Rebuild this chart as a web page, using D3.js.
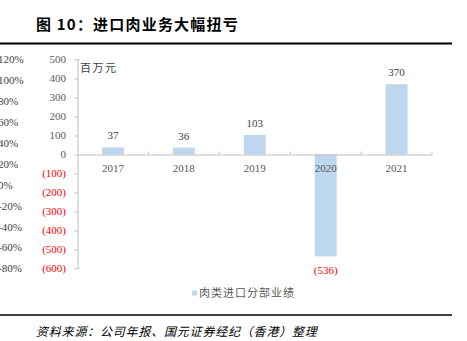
<!DOCTYPE html>
<html><head><meta charset="utf-8">
<script src="https://cdn.jsdelivr.net/npm/d3@7"></script>
<style>
body{margin:0;background:#fff;}
svg{display:block;}
</style></head>
<body>
<svg id="c" width="467" height="341"></svg>
<script>
const categories = ["2017","2018","2019","2020","2021"];
const values = [37, 36, 103, -536, 370];
const seriesName = "肉类进口分部业绩";
const yTicks = [500,400,300,200,100,0,-100,-200,-300,-400,-500,-600];
const pctLabels = ["120%","100%","80%","60%","40%","20%","0%","-20%","-40%","-60%","-80%"];
const title = "图 10：进口肉业务大幅扭亏";
const unitLabel = "百万元";
const source = "资料来源：公司年报、国元证券经纪（香港）整理";

const svg = d3.select("#c");
const serif = "'Liberation Serif','Times New Roman',serif";
const cjk = "'Noto Sans CJK SC','Noto Sans',sans-serif";
const axisColor = "#BFBFBF";

// title
svg.append("text").attr("x",36).attr("y",30)
  .attr("font-family",cjk).attr("font-weight","bold").attr("font-size",15)
  .attr("letter-spacing",1.2).attr("fill","#000").text(title);
svg.append("line").attr("x1",0).attr("x2",452).attr("y1",43.5).attr("y2",43.5)
  .attr("stroke","#000").attr("stroke-width",2);

// stray percent axis (cut off at the left edge, as in the reference)
const yPct = d3.scalePoint().domain(pctLabels).range([59.5,268.5]);
svg.append("g").selectAll("text").data(pctLabels).join("text")
  .attr("x",-2).attr("y",d=>yPct(d)).attr("dy","0.35em")
  .attr("font-family",serif).attr("font-size",11).attr("fill","#404040")
  .text(d=>d);

// scales
const y = d3.scaleLinear().domain([-600,500]).range([268.5,59.5]);
const x = d3.scaleBand().domain(categories).range([77.5,432]).padding(0);
const barW = x.bandwidth()*0.31;

// y axis
const gy = svg.append("g").attr("transform","translate(77.5,0)")
  .call(d3.axisLeft(y).tickValues(yTicks).tickSize(3).tickSizeOuter(0).tickFormat(()=>""));
gy.select(".domain").attr("stroke",axisColor);
gy.selectAll(".tick line").attr("stroke",axisColor);
gy.append("path").attr("d",`M0,${y(500)}H2M0,${y(-600)}H2`).attr("stroke",axisColor).attr("fill","none");
svg.append("g").selectAll("text").data(yTicks).join("text")
  .attr("x",66).attr("y",d=>y(d)).attr("dy","0.35em").attr("text-anchor","end")
  .attr("font-family",serif).attr("font-size",11)
  .attr("fill",d=>d<0?"#FF0000":"#595959")
  .text(d=>d<0?`(${-d})`:d);

// bars
svg.append("g").selectAll("rect").data(values).join("rect")
  .attr("x",(d,i)=>x(categories[i])+x.bandwidth()/2-barW/2)
  .attr("width",barW)
  .attr("y",d=>y(Math.max(0,d)))
  .attr("height",d=>Math.abs(y(d)-y(0)))
  .attr("fill","#BDD7EE");

// zero axis
const gx = svg.append("g").attr("transform",`translate(0,${y(0)})`)
  .call(d3.axisTop(x).tickValues([]).tickSizeOuter(0));
gx.select(".domain").attr("stroke",axisColor);
const bounds = categories.slice(1).map(c=>x(c)).concat([x.range()[1]]);
gx.selectAll("line.b").data(bounds).join("line").attr("class","b")
  .attr("x1",d=>d).attr("x2",d=>d).attr("y1",0).attr("y2",-3).attr("stroke",axisColor);

// year labels
svg.append("g").selectAll("text").data(categories).join("text")
  .attr("x",d=>x(d)+x.bandwidth()/2).attr("y",y(0)+17.5).attr("text-anchor","middle")
  .attr("font-family",serif).attr("font-size",11).attr("fill","#595959").text(d=>d);

// data labels
svg.append("g").selectAll("text").data(values).join("text")
  .attr("x",(d,i)=>x(categories[i])+x.bandwidth()/2)
  .attr("y",d=>d>=0?y(d)-8:y(d)+18)
  .attr("text-anchor","middle")
  .attr("font-family",serif).attr("font-size",11)
  .attr("fill",d=>d<0?"#FF0000":"#404040")
  .text(d=>d<0?`(${-d})`:d);

// unit label
svg.append("text").attr("x",80).attr("y",72)
  .attr("font-family",cjk).attr("font-size",11).attr("letter-spacing",1.5)
  .attr("fill","#404040").text(unitLabel);

// legend
svg.append("rect").attr("x",192).attr("y",290.5).attr("width",5).attr("height",5).attr("fill","#BDD7EE");
svg.append("text").attr("x",199).attr("y",296.5)
  .attr("font-family",cjk).attr("font-size",11).attr("letter-spacing",1)
  .attr("fill","#595959").text(seriesName);

// footer
svg.append("line").attr("x1",0).attr("x2",452).attr("y1",315).attr("y2",315)
  .attr("stroke","#000").attr("stroke-width",1.5);
svg.append("text").attr("x",36).attr("y",336)
  .attr("font-family",cjk).attr("font-size",12).attr("letter-spacing",0.8)
  .attr("font-style","italic").attr("fill","#000").text(source);
</script>
</body></html>
